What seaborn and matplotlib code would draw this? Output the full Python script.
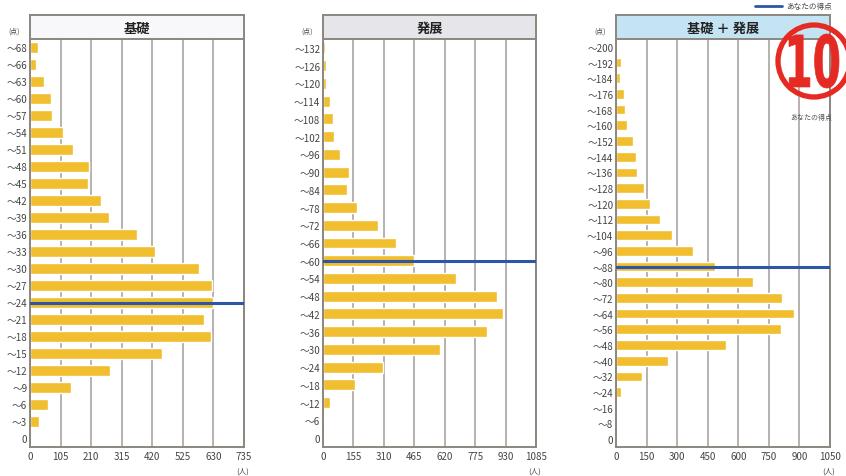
import matplotlib
matplotlib.use("Agg")
import matplotlib.pyplot as plt
import seaborn as sns
import pandas as pd
from matplotlib.patches import Circle, PathPatch
from matplotlib.textpath import TextPath
from matplotlib.font_manager import FontProperties
from matplotlib.transforms import Affine2D

# 基礎
kiso_bins = ["〜68", "〜66", "〜63", "〜60", "〜57", "〜54", "〜51", "〜48", "〜45",
             "〜42", "〜39", "〜36", "〜33", "〜30", "〜27", "〜24", "〜21", "〜18",
             "〜15", "〜12", "〜9", "〜6", "〜3", "0"]
kiso_counts = [26, 21, 47, 71, 77, 112, 146, 201, 198, 244, 273, 368, 430, 580,
               625, 628, 596, 620, 455, 274, 142, 62, 32, 5]
kiso_ticks = [0, 105, 210, 315, 420, 525, 630, 735]
kiso_score = "〜24"

# 発展
hatten_bins = ["〜132", "〜126", "〜120", "〜114", "〜108", "〜102", "〜96", "〜90",
               "〜84", "〜78", "〜72", "〜66", "〜60", "〜54", "〜48", "〜42", "〜36",
               "〜30", "〜24", "〜18", "〜12", "〜6", "0"]
hatten_counts = [10, 17, 14, 36, 49, 56, 87, 131, 122, 175, 280, 371, 466, 677,
                 887, 916, 835, 595, 306, 162, 34, 0, 0]
hatten_ticks = [0, 155, 310, 465, 620, 775, 930, 1085]
hatten_score = "〜60"

# 基礎 + 発展
total_bins = ["〜200", "〜192", "〜184", "〜176", "〜168", "〜160", "〜152", "〜144",
              "〜136", "〜128", "〜120", "〜112", "〜104", "〜96", "〜88", "〜80",
              "〜72", "〜64", "〜56", "〜48", "〜40", "〜32", "〜24", "〜16", "〜8", "0"]
total_counts = [7, 24, 18, 39, 46, 54, 82, 96, 103, 139, 167, 217, 276, 377, 487,
                672, 816, 874, 810, 541, 255, 126, 25, 0, 0, 0]
total_ticks = [0, 150, 300, 450, 600, 750, 900, 1050]
total_score = "〜88"

W, H = 846, 477
BAR = "#F0BE2E"
BLUE = "#2E56A6"
FRAME = "#8C8680"
GRID = "#A09C98"

sns.set_theme(style="white")
plt.rcParams["font.family"] = ["Noto Sans CJK JP", "DejaVu Sans"]

fig = plt.figure(figsize=(W / 100, H / 100), dpi=100)

panels = [
    ("基礎", kiso_bins, kiso_counts, kiso_ticks, kiso_score, "#F8F8FB", 30, 244),
    ("発展", hatten_bins, hatten_counts, hatten_ticks, hatten_score, "#E6E6EA", 323, 536),
    ("基礎 ＋ 発展", total_bins, total_counts, total_ticks, total_score, "#C4E4F4", 616, 830),
]

top, bottom, head_top = 40, 448, 16

for title, bins, counts, ticks, score, head_color, left, right in panels:
    ax = fig.add_axes([left / W, 1 - bottom / H, (right - left) / W, (bottom - top) / H])
    df = pd.DataFrame({"bin": bins, "count": counts})
    sns.barplot(data=df, x="count", y="bin", color=BAR, saturation=1,
                width=0.62, ax=ax)
    n = len(bins)
    ax.set_xlim(0, ticks[-1])
    ax.set_ylim(n - 0.5, -0.5)
    ax.set_xticks(ticks)
    ax.set_xlabel("")
    ax.set_ylabel("")
    ax.grid(axis="x", color=GRID, lw=1.1)
    ax.set_axisbelow(True)
    ax.axhline(bins.index(score), color=BLUE, lw=2.2, zorder=5)
    ax.set_yticks([i + 0.5 for i in range(n - 1)], minor=True)
    ax.tick_params(axis="y", which="major", length=0, pad=2, labelsize=7, colors="#444444")
    ax.tick_params(axis="y", which="minor", length=3, width=0.8, color=FRAME, direction="out")
    ax.tick_params(axis="x", length=0, pad=3, labelsize=7, colors="#444444")
    for side in ["left", "right", "bottom"]:
        ax.spines[side].set_color(FRAME)
        ax.spines[side].set_linewidth(1.4)
    ax.spines["top"].set_visible(False)

    hd = fig.add_axes([left / W, 1 - top / H, (right - left) / W, (top - head_top) / H])
    hd.set_facecolor(head_color)
    hd.set_xticks([])
    hd.set_yticks([])
    for sp in hd.spines.values():
        sp.set_color(FRAME)
        sp.set_linewidth(1.4)
    hd.text(0.5, 0.45, title, ha="center", va="center", fontsize=9.5,
            fontweight="bold", color="#222222", transform=hd.transAxes)

    fig.text((left - 16) / W, 1 - 32 / H, "(点)", ha="center", va="center",
             fontsize=5, color="#444444")
    fig.text((right - 1) / W, 1 - 472 / H, "(人)", ha="center", va="center",
             fontsize=5.5, color="#444444")

# overlay in pixel coordinates for legend and stamp
ov = fig.add_axes([0, 0, 1, 1], zorder=20)
ov.set_xlim(0, W)
ov.set_ylim(H, 0)
ov.axis("off")
ov.patch.set_alpha(0)

ov.plot([755, 782], [7, 7], color=BLUE, lw=2)
ov.text(786, 7, "あなたの得点", ha="left", va="center", fontsize=5.5, color="#444444")
ov.text(790, 118, "あなたの得点", ha="left", va="center", fontsize=5, color="#555555")

RED = "#E42A22"
ov.add_patch(Circle((814, 62), 36, fill=False, ec=RED, lw=3.8))
tp = TextPath((0, 0), "10", size=1, prop=FontProperties(family="DejaVu Sans", weight="bold"))
bb = tp.get_extents()
tr = (Affine2D().translate(-(bb.x0 + bb.width / 2), -(bb.y0 + bb.height / 2))
      .scale(50 / bb.width, -54 / bb.height).translate(814, 62))
ov.add_patch(PathPatch(tr.transform_path(tp), fc=RED, ec=RED, lw=0.5))

fig.savefig("out.png", dpi=100)
